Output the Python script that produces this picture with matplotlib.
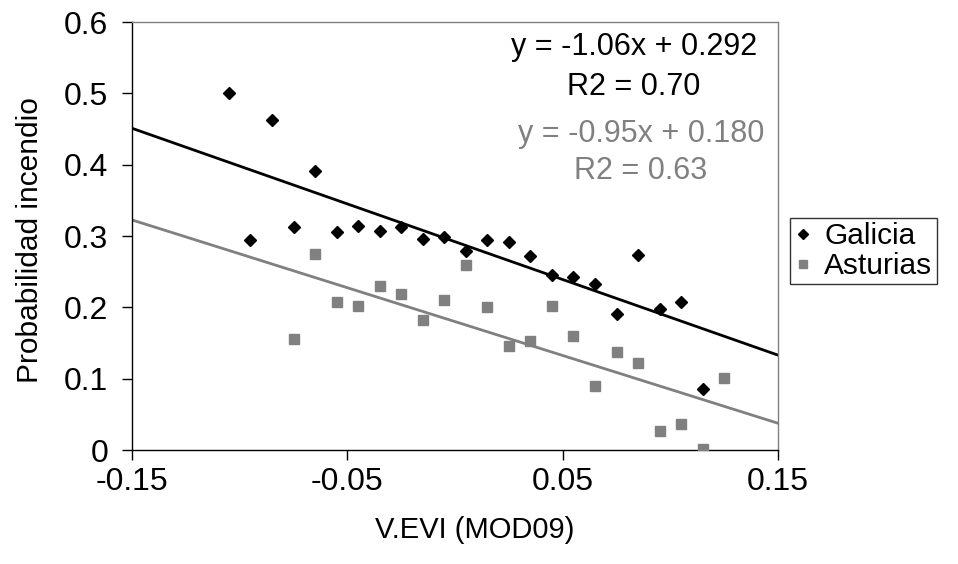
import numpy as np
from matplotlib import pyplot as plt

plt.rcParams['font.family'] = ['Liberation Sans', 'DejaVu Sans']

# Galicia
galicia_x = [-0.105, -0.095, -0.085, -0.075, -0.065, -0.055, -0.045, -0.035,
             -0.025, -0.015, -0.005, 0.005, 0.015, 0.025, 0.035, 0.045,
             0.055, 0.065, 0.075, 0.085, 0.095, 0.105, 0.115]
galicia_y = [0.501, 0.294, 0.463, 0.312, 0.391, 0.305, 0.314, 0.307,
             0.312, 0.296, 0.299, 0.279, 0.294, 0.292, 0.272, 0.246,
             0.243, 0.233, 0.190, 0.273, 0.198, 0.208, 0.086]

# Asturias
asturias_x = [-0.075, -0.065, -0.055, -0.045, -0.035, -0.025, -0.015, -0.005,
              0.005, 0.015, 0.025, 0.035, 0.045, 0.055, 0.065, 0.075,
              0.085, 0.095, 0.105, 0.115, 0.125]
asturias_y = [0.156, 0.275, 0.207, 0.202, 0.230, 0.218, 0.182, 0.210,
              0.259, 0.200, 0.146, 0.153, 0.202, 0.160, 0.090, 0.137,
              0.122, 0.027, 0.036, 0.002, 0.101]

# lineas de tendencia (ecuaciones del grafico)
galicia_fit = (-1.06, 0.292)
asturias_fit = (-0.95, 0.180)
galicia_r2 = 0.70
asturias_r2 = 0.63

x_ticks = [-0.15, -0.05, 0.05, 0.15]
y_ticks = [0, 0.1, 0.2, 0.3, 0.4, 0.5, 0.6]

GRIS = '#808080'

fig = plt.figure(figsize=(9.58, 5.64), dpi=100)
ax = fig.add_axes([132 / 958, 114 / 564, 646 / 958, 428 / 564])

xl = np.array([-0.15, 0.15])
ax.plot(xl, galicia_fit[0] * xl + galicia_fit[1], color='black', lw=2.0, zorder=2)
ax.plot(xl, asturias_fit[0] * xl + asturias_fit[1], color=GRIS, lw=2.0, zorder=2)

ax.plot(galicia_x, galicia_y, 'D', color='black', ms=6, ls='none',
        label='Galicia', zorder=3)
ax.plot(asturias_x, asturias_y, 's', color=GRIS, ms=7, ls='none',
        label='Asturias', zorder=3)

ax.set_xlim(-0.15, 0.15)
ax.set_ylim(0, 0.6)
ax.set_xticks(x_ticks)
ax.set_xticklabels(['-0.15', '-0.05', '0.05', '0.15'])
ax.set_yticks(y_ticks)
ax.set_yticklabels(['0', '0.1', '0.2', '0.3', '0.4', '0.5', '0.6'])
ax.tick_params(direction='out', length=7, width=1, labelsize=23)
ax.tick_params(axis='x', pad=5)
ax.tick_params(axis='y', pad=10)

for s in ['left', 'bottom']:
    ax.spines[s].set_color('black')
    ax.spines[s].set_linewidth(1)
for s in ['top', 'right']:
    ax.spines[s].set_color(GRIS)
    ax.spines[s].set_linewidth(1)

ax.set_xlabel('V.EVI (MOD09)', fontsize=21)
ax.set_ylabel('Probabilidad incendio', fontsize=21.5)
ax.xaxis.set_label_coords(0.531, -0.155)
ax.yaxis.set_label_coords(-0.136, 0.49)

ax.text(0.777, 0.942, 'y = %.2fx + %.3f' % galicia_fit, transform=ax.transAxes,
        ha='center', va='center', fontsize=22, color='black')
ax.text(0.777, 0.848, 'R2 = %.2f' % galicia_r2, transform=ax.transAxes,
        ha='center', va='center', fontsize=22, color='black')
ax.text(0.788, 0.738, 'y = %.2fx + %.3f' % asturias_fit, transform=ax.transAxes,
        ha='center', va='center', fontsize=22, color=GRIS)
ax.text(0.788, 0.652, 'R2 = %.2f' % asturias_r2, transform=ax.transAxes,
        ha='center', va='center', fontsize=22, color=GRIS)

leg = fig.legend(loc='upper left', bbox_to_anchor=(790 / 958, 1 - 218 / 564),
                 fontsize=21.5, frameon=True, fancybox=False, borderaxespad=0,
                 handlelength=0.6, handletextpad=0.4, borderpad=0.15,
                 labelspacing=0.05, markerscale=0.8)
leg.get_frame().set_edgecolor('black')
leg.get_frame().set_linewidth(1)

plt.savefig('out.png', dpi=100)
